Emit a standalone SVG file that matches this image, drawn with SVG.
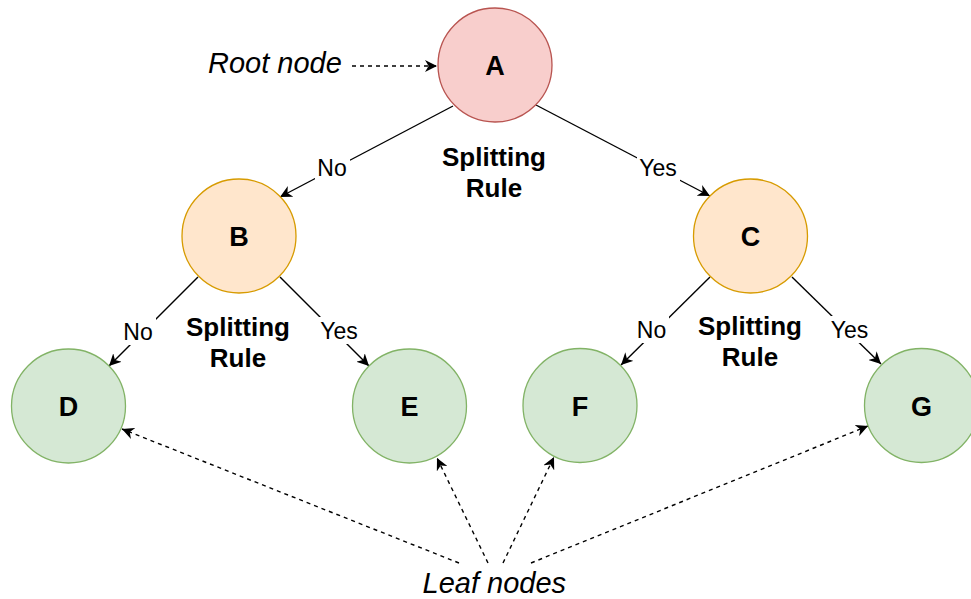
<svg xmlns="http://www.w3.org/2000/svg" width="971" height="599" viewBox="0 0 971 599">
<defs>
<marker id="arr" markerUnits="userSpaceOnUse" markerWidth="12" markerHeight="12" viewBox="0 0 10 10" refX="10" refY="5" orient="auto">
<path d="M0,0 L10,5 L0,10 L3,5 Z" fill="#000"/>
</marker>
</defs>
<style>
.root{fill:#f8cecc;stroke:#b85450;stroke-width:1.3}
.mid{fill:#ffe6cc;stroke:#d79b00;stroke-width:1.3}
.leaf{fill:#d5e8d4;stroke:#82b366;stroke-width:1.3}
.letter{font-family:"Liberation Sans",Arial,sans-serif;font-weight:bold;font-size:27px;text-anchor:middle;fill:#000}
.rule{font-family:"Liberation Sans",Arial,sans-serif;font-weight:bold;font-size:26px;text-anchor:middle;fill:#000}
.lbl{font-family:"Liberation Sans",Arial,sans-serif;font-size:23px;text-anchor:middle;fill:#000}
.note{font-family:"Liberation Sans",Arial,sans-serif;font-style:italic;font-size:29px;fill:#000}
.edge{stroke:#000;stroke-width:1.4;fill:none;marker-end:url(#arr)}
.dash{stroke:#000;stroke-width:1.4;fill:none;stroke-dasharray:4 4;marker-end:url(#arr)}
.bg{fill:#fff}
</style>
<g id="connectors">
<path class="edge" d="M453,106 L280,197"/>
<path class="edge" d="M536,105 L710,196"/>
<path class="edge" d="M198,277 L109,366"/>
<path class="edge" d="M280,277 L369,366"/>
<path class="edge" d="M710,277 L621,365"/>
<path class="edge" d="M792,277 L881,364"/>
<path class="dash" d="M352,66 L437,66"/>
<path class="dash" d="M459,563 L122,429"/>
<path class="dash" d="M488,563 L437,458"/>
<path class="dash" d="M503,563 L554,457"/>
<path class="dash" d="M531,563 L868,426"/>
<rect class="bg" x="315" y="155" width="35" height="26"/>
<text class="lbl" x="332" y="176">No</text>
<rect class="bg" x="637" y="155" width="43" height="26"/>
<text class="lbl" x="658" y="176">Yes</text>
<rect class="bg" x="121" y="318" width="35" height="27"/>
<text class="lbl" x="138" y="340">No</text>
<rect class="bg" x="318" y="317" width="43" height="27"/>
<text class="lbl" x="339" y="339">Yes</text>
<rect class="bg" x="634" y="316" width="35" height="27"/>
<text class="lbl" x="651.5" y="338">No</text>
<rect class="bg" x="828" y="316" width="43" height="27"/>
<text class="lbl" x="849.5" y="338">Yes</text>
</g>
<g id="node-A">
<circle class="root" cx="495" cy="65" r="57"/>
<text class="letter" x="495" y="75">A</text>
</g>
<g id="node-B">
<circle class="mid" cx="239" cy="236" r="57"/>
<text class="letter" x="239" y="246">B</text>
</g>
<g id="node-C">
<circle class="mid" cx="750.5" cy="236" r="57"/>
<text class="letter" x="750.5" y="246">C</text>
</g>
<g id="node-D">
<circle class="leaf" cx="68.5" cy="406" r="57"/>
<text class="letter" x="68.5" y="416">D</text>
</g>
<g id="node-E">
<circle class="leaf" cx="409.5" cy="406" r="57"/>
<text class="letter" x="409.5" y="416">E</text>
</g>
<g id="node-F">
<circle class="leaf" cx="580" cy="405.5" r="57"/>
<text class="letter" x="580" y="415.5">F</text>
</g>
<g id="node-G">
<circle class="leaf" cx="921.5" cy="405.5" r="57"/>
<text class="letter" x="921.5" y="415.5">G</text>
</g>
<g id="rule-A">
<text class="rule" x="494" y="166">Splitting</text>
<text class="rule" x="494" y="197">Rule</text>
</g>
<g id="rule-B">
<text class="rule" x="238" y="336">Splitting</text>
<text class="rule" x="238" y="367">Rule</text>
</g>
<g id="rule-C">
<text class="rule" x="750" y="335">Splitting</text>
<text class="rule" x="750" y="366">Rule</text>
</g>
<g id="root-note">
<text class="note" x="208" y="73">Root node</text>
</g>
<g id="leaf-note">
<text class="note" x="422.5" y="593">Leaf nodes</text>
</g>
</svg>
